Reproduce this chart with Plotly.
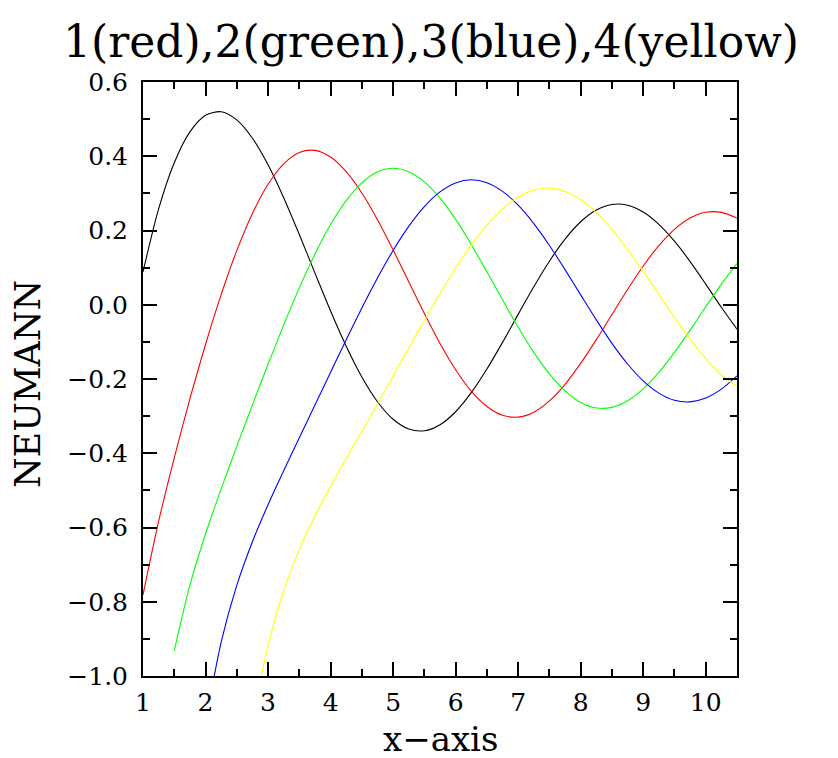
import plotly.graph_objects as go

x_all = [1.0, 1.25, 1.5, 1.75, 2.0, 2.25, 2.5, 2.75, 3.0, 3.25, 3.5, 3.75, 4.0, 4.25, 4.5, 4.75,
         5.0, 5.25, 5.5, 5.75, 6.0, 6.25, 6.5, 6.75, 7.0, 7.25, 7.5, 7.75, 8.0, 8.25, 8.5, 8.75,
         9.0, 9.25, 9.5, 9.75, 10.0, 10.25, 10.5]

y_black = [0.08826, 0.25821, 0.38245, 0.46553, 0.51038, 0.52004, 0.49807, 0.44863, 0.37685, 0.28827,
           0.18902, 0.08526, -0.01694, -0.11189, -0.19471, -0.26119, -0.30852, -0.33473, -0.33948,
           -0.32327, -0.28819, -0.23690, -0.17324, -0.10138, -0.02595, 0.04841, 0.11731, 0.17673,
           0.22352, 0.25511, 0.27017, 0.26819, 0.24994, 0.21675, 0.17121, 0.11630, 0.05567, -0.00690,
           -0.06604]

y_red = [-0.78121, -0.58360, -0.41231, -0.25371, -0.10703, 0.02724, 0.14592, 0.24600, 0.32467, 0.37973,
         0.41021, 0.41584, 0.39793, 0.35853, 0.30100, 0.22920, 0.14786, 0.06186, -0.02383, -0.10422,
         -0.17501, -0.23255, -0.27407, -0.29763, -0.30267, -0.28931, -0.25912, -0.21429, -0.15806,
         -0.09398, -0.02617, 0.04125, 0.10431, 0.15928, 0.20317, 0.23353, 0.24902, 0.24890, 0.23367]

x_green = x_all[2:]
y_green = [-0.93220, -0.75548, -0.61741, -0.49583, -0.38133, -0.26972, -0.16040, -0.05459, 0.04539,
           0.13652, 0.21591, 0.28061, 0.32849, 0.35770, 0.36766, 0.35830, 0.33082, 0.28702, 0.22985,
           0.16248, 0.08891, 0.01319, -0.06053, -0.12822, -0.18641, -0.23203, -0.26304, -0.27789,
           -0.27633, -0.25876, -0.22676, -0.18231, -0.12844, -0.06840, -0.00587, 0.05547, 0.11055]

x_blue = x_all[4:]
y_blue = [-1.12779, -0.90872, -0.75605, -0.63832, -0.53854, -0.44692, -0.35834, -0.27022, -0.18202,
          -0.09443, -0.00901, 0.07202, 0.14627, 0.21113, 0.26443, 0.30389, 0.32824, 0.33654, 0.32878,
          0.30545, 0.26808, 0.21857, 0.15970, 0.09453, 0.02654, -0.04075, -0.10387, -0.15954, -0.20509,
          -0.23812, -0.25725, -0.26159, -0.25137, -0.22725, -0.19156]

x_yellow = x_all[7:]
y_yellow = [-1.12298, -0.91668, -0.77049, -0.65969, -0.56887, -0.48894, -0.41392, -0.34050, -0.26673,
            -0.19214, -0.11701, -0.04235, 0.03008, 0.09839, 0.16060, 0.21458, 0.25832, 0.29031, 0.30911,
            0.31417, 0.30522, 0.28295, 0.24825, 0.20301, 0.14936, 0.09003, 0.02785, -0.03403, -0.09258,
            -0.14495, -0.18849, -0.22001]

x_ticks = [1, 2, 3, 4, 5, 6, 7, 8, 9, 10]
y_ticks = [-1.0, -0.8, -0.6, -0.4, -0.2, 0.0, 0.2, 0.4, 0.6]

FONT = "DejaVu Serif"

fig = go.Figure()
series = [
    (x_all, y_black, "#000000", "0"),
    (x_all, y_red, "#ff0000", "1"),
    (x_green, y_green, "#00ff00", "2"),
    (x_blue, y_blue, "#0000ff", "3"),
    (x_yellow, y_yellow, "#ffff00", "4"),
]
for xs, ys, col, name in series:
    fig.add_trace(go.Scatter(x=xs, y=ys, mode="lines", name=name,
                             line=dict(color=col, width=1.1, shape="spline", smoothing=0.8),
                             showlegend=False, hoverinfo="skip"))

axis_common = dict(
    showgrid=False, zeroline=False, showline=True, linecolor="black", linewidth=2,
    mirror="allticks", ticks="inside", ticklen=14, tickwidth=1.5, tickcolor="black",
    tickfont=dict(family=FONT, size=25, color="black"), automargin=False,
)

fig.update_xaxes(range=[1, 10.5], tickvals=x_ticks, ticktext=[str(v) for v in x_ticks],
                 ticklabelstandoff=3,
                 minor=dict(dtick=0.5, tick0=1, ticks="inside", ticklen=7, tickwidth=1.5, tickcolor="black"),
                 **axis_common)
fig.update_yaxes(range=[-1.0, 0.6], tickvals=y_ticks, tickformat=".1f",
                 ticklabelstandoff=8,
                 minor=dict(dtick=0.1, tick0=0, ticks="inside", ticklen=7, tickwidth=1.5, tickcolor="black"),
                 **axis_common)

# Axis titles placed as annotations for exact positioning
fig.add_annotation(text="x\u2212axis", xref="paper", yref="paper", x=0.5, y=0,
                   xanchor="center", yanchor="middle", yshift=-63, showarrow=False,
                   font=dict(family=FONT, size=34, color="black"))
fig.add_annotation(text="NEUMANN", xref="paper", yref="paper", x=0, y=0.5, textangle=-90,
                   xanchor="center", yanchor="middle", xshift=-115, yshift=-5, showarrow=False,
                   font=dict(family=FONT, size=35, color="black"))

# The page body adds an 8px margin, so the figure is sized and offset to compensate.
fig.update_layout(
    width=830, height=750,
    margin=dict(l=135, r=101, t=74, b=82),
    paper_bgcolor="white", plot_bgcolor="white",
    title=dict(text="1(red),2(green),3(blue),4(yellow)", font=dict(family=FONT, size=44, color="black"),
               x=423 / 830, xanchor="center", xref="container",
               y=1 - 34 / 750, yanchor="middle", yref="container"),
)

fig.write_html("out.html")
